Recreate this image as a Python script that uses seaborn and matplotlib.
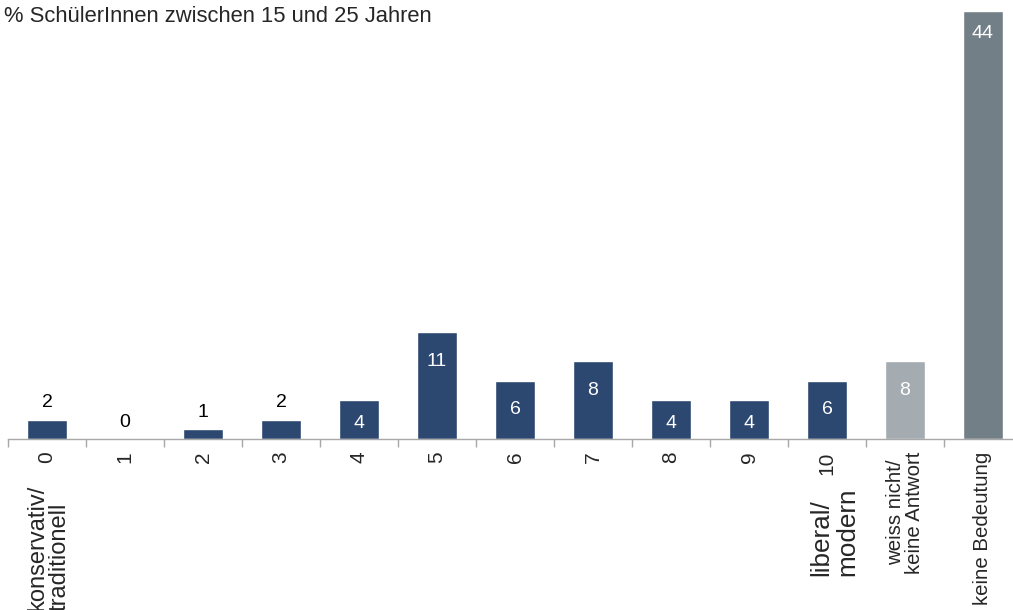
import matplotlib
matplotlib.use("Agg")
import matplotlib.pyplot as plt
import seaborn as sns
import numpy as np

# Daten
kategorien = ["0", "1", "2", "3", "4", "5", "6", "7", "8", "9", "10",
              "weiss nicht/\nkeine Antwort", "keine Bedeutung"]
werte = [2, 0, 1, 2, 4, 11, 6, 8, 4, 4, 6, 8, 44]
farben = ["#2C4770"] * 11 + ["#A4ACB1", "#737F86"]
titel = "% SchülerInnen zwischen 15 und 25 Jahren"
links_text = "konservativ/\ntraditionell"
rechts_text = "liberal/\nmodern"

sns.set_style("white")
plt.rcParams['font.family'] = ['Liberation Sans', 'DejaVu Sans']

fig = plt.figure(figsize=(10.13, 6.10), dpi=100)
ax = fig.add_axes([8 / 1013, 171 / 610, 1014 / 1013, 428 / 610])

sns.barplot(x=kategorien, y=werte, hue=kategorien, palette=farben,
            order=kategorien, hue_order=kategorien, legend=False,
            width=0.51, saturation=1, ax=ax)

ax.set_ylim(0, 44)
ax.set_xlim(-0.5, len(kategorien) - 0.5)
ax.set_yticks([])
ax.set_xlabel("")
ax.set_ylabel("")
for s in ["top", "right", "left"]:
    ax.spines[s].set_visible(False)
ax.spines["bottom"].set_color("#A8A8A8")
ax.spines["bottom"].set_linewidth(1)

# Ticks an den Grenzen
ax.set_xticks(range(len(kategorien)))
ax.set_xticklabels(kategorien, rotation=90, va="top", ha="center")
ax.set_xticks(np.arange(-0.5, len(kategorien)), minor=True)
ax.tick_params(axis="x", which="minor", bottom=True, length=6, color="#A8A8A8",
               width=1, direction="out")
ax.tick_params(axis="x", which="major", bottom=True, length=0, pad=9)
for i, lab in enumerate(ax.get_xticklabels()):
    lab.set_fontsize(15 if i < 11 else 14.7)
    lab.set_multialignment("center")
    lab.set_linespacing(0.95)

# Wertebeschriftung
for i, v in enumerate(werte):
    if v < 4:
        ax.annotate(str(v), (i, v), xytext=(0, 12), textcoords="offset points",
                    ha="center", va="center", fontsize=14, color="black")
    else:
        y = max(v - 3.0, v * 0.4)
        if v == 44:
            y = v - 2.3
        ax.text(i, y, str(v), ha="center", va="center", fontsize=14, color="white")

# Pole beschriften (linksbündig, d.h. unten ausgerichtet)
ax.annotate(links_text, (0, 0), xytext=(1, -123.5), textcoords="offset points",
            rotation=90, ha="center", va="bottom", fontsize=17,
            multialignment="left", linespacing=1.05, annotation_clip=False)
ax.annotate(rechts_text, (10, 0), xytext=(5.5, -99), textcoords="offset points",
            rotation=90, ha="center", va="bottom", fontsize=18.8,
            multialignment="left", linespacing=1.1, annotation_clip=False)

fig.text(0.004, 0.99, titel, ha="left", va="top", fontsize=15.8)

fig.savefig("out.png", dpi=100)
